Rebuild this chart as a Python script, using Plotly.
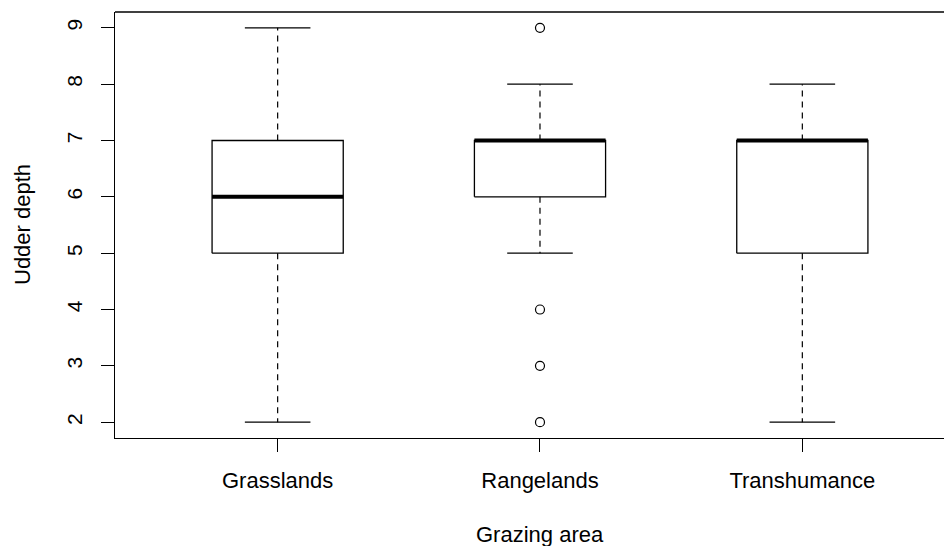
import plotly.graph_objects as go

categories = ["Grasslands", "Rangelands", "Transhumance"]
lower_whisker = [2, 5, 2]
q1 = [5, 6, 5]
median = [6, 7, 7]
q3 = [7, 7, 7]
upper_whisker = [9, 8, 8]
outlier_cat = [2, 2, 2, 2]
outlier_val = [9, 4, 3, 2]
y_ticks = [2, 3, 4, 5, 6, 7, 8, 9]

xpos = [i + 1 for i in range(len(categories))]
BOX_HW = 0.25
STAPLE_HW = 0.125
FONT = "Liberation Sans, Arial, sans-serif"

box_x, box_y = [], []
wx, wy = [], []
sx, sy = [], []
mx, my = [], []
for i, x in enumerate(xpos):
    box_x += [x - BOX_HW, x + BOX_HW, x + BOX_HW, x - BOX_HW, x - BOX_HW, None]
    box_y += [q1[i], q1[i], q3[i], q3[i], q1[i], None]
    wx += [x, x, None, x, x, None]
    wy += [q3[i], upper_whisker[i], None, q1[i], lower_whisker[i], None]
    sx += [x - STAPLE_HW, x + STAPLE_HW, None, x - STAPLE_HW, x + STAPLE_HW, None]
    sy += [upper_whisker[i], upper_whisker[i], None, lower_whisker[i], lower_whisker[i], None]
    mx += [x - BOX_HW, x + BOX_HW, None]
    my += [median[i], median[i], None]

fig = go.Figure()
fig.add_trace(go.Scatter(x=wx, y=wy, mode="lines",
                         line=dict(color="black", width=1.2, dash="6px,5px"),
                         hoverinfo="skip", showlegend=False))
fig.add_trace(go.Scatter(x=sx, y=sy, mode="lines",
                         line=dict(color="black", width=1.3),
                         hoverinfo="skip", showlegend=False))
fig.add_trace(go.Scatter(x=box_x, y=box_y, mode="lines",
                         line=dict(color="black", width=1.3),
                         hoverinfo="skip", showlegend=False))
fig.add_trace(go.Scatter(x=mx, y=my, mode="lines",
                         line=dict(color="black", width=4),
                         hoverinfo="skip", showlegend=False))
fig.add_trace(go.Scatter(x=outlier_cat, y=outlier_val, mode="markers",
                         marker=dict(symbol="circle-open", size=9,
                                     color="black", line=dict(width=1.2)),
                         showlegend=False))

W, H = 952, 538
L, T, B = 107, 4, 108
PW = W - L
PH = H - T - B

fig.update_layout(
    width=W, height=H,
    margin=dict(l=L, r=0, t=T, b=B),
    plot_bgcolor="white", paper_bgcolor="white",
    font=dict(family=FONT, size=22, color="black"),
    xaxis=dict(range=[0.38, 3.601], tickmode="array", tickvals=xpos,
               ticktext=categories, ticks="outside", ticklen=13,
               tickwidth=1.3, tickcolor="black", showline=True,
               linecolor="black", linewidth=1.3, showgrid=False,
               zeroline=False, ticklabelstandoff=9),
    yaxis=dict(range=[1.72, 9.28], tickmode="array", tickvals=y_ticks,
               ticks="outside", ticklen=13, tickwidth=1.3, tickcolor="black",
               tickangle=-90, showline=True, linecolor="black", linewidth=1.3,
               showgrid=False, zeroline=False, ticklabelstandoff=10,
               tickfont=dict(size=21)),
    shapes=[dict(type="line", xref="paper", yref="paper", x0=0, x1=1,
                 y0=1, y1=1, line=dict(color="black", width=1.3))],
    annotations=[
        dict(text="Grazing area", xref="paper", yref="paper",
             x=(540 - 115) / PW, y=-(534 - 438) / PH, showarrow=False,
             xanchor="center", yanchor="middle", font=dict(size=22)),
        dict(text="Udder depth", xref="paper", yref="paper",
             x=-(115 - 22) / PW, y=0.5, showarrow=False, textangle=-90,
             xanchor="center", yanchor="middle", font=dict(size=22)),
    ],
)

fig.write_html("out.html")
